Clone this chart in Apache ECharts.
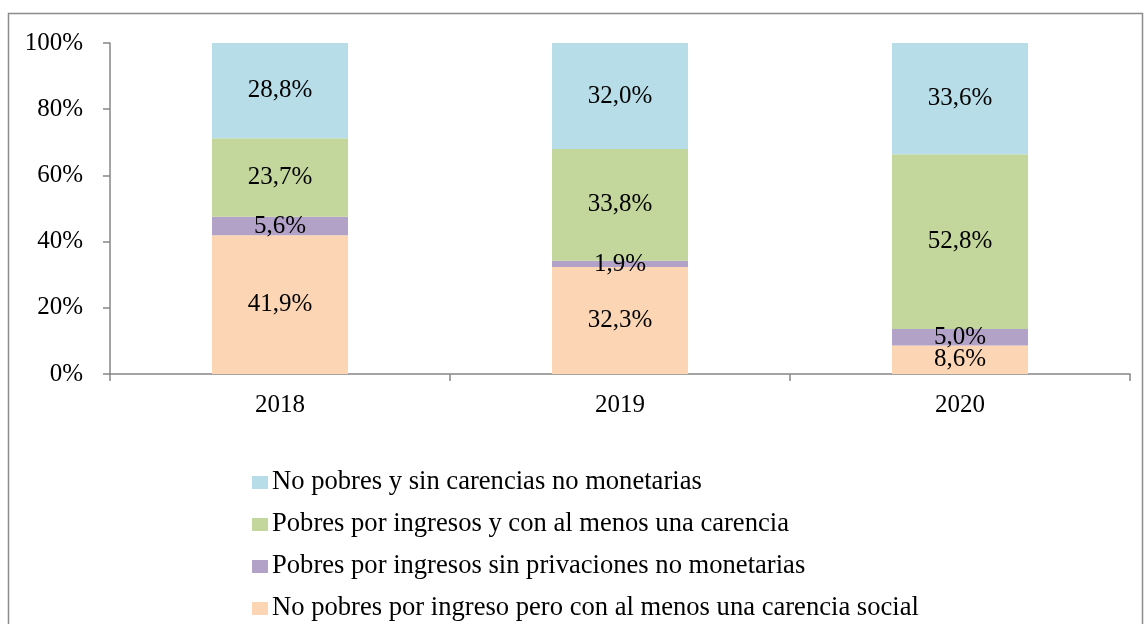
<!DOCTYPE html>
<html>
<head>
<meta charset="utf-8">
<script src="https://cdn.jsdelivr.net/npm/echarts@6/dist/echarts.min.js"></script>
<style>
  html, body { margin: 0; padding: 0; background: #fff; }
  #chart { width: 1145px; height: 624px; }
</style>
</head>
<body>
<div id="chart"></div>
<script>
// categorias y series (porcentajes)
const years = ['2018', '2019', '2020'];
const noPobresConCarencia = [41.9, 32.3, 8.6];
const pobresSinPrivaciones = [5.6, 1.9, 5.0];
const pobresConCarencia = [23.7, 33.8, 52.8];
const noPobresSinCarencias = [28.8, 32.0, 33.6];
const yTicks = [0, 20, 40, 60, 80, 100];

const seriesNames = [
  'No pobres por ingreso pero con al menos una carencia social',
  'Pobres por ingresos sin privaciones no monetarias',
  'Pobres por ingresos y con al menos una carencia',
  'No pobres y sin carencias no monetarias'
];
const colors = ['#fcd5b5', '#b3a2c7', '#c3d69b', '#b7dee8'];

const font = 'Liberation Serif, Times New Roman, serif';

function fmt(p) {
  return p.value.toFixed(1).replace('.', ',') + '%';
}

function makeSeries(name, data, color) {
  return {
    name: name,
    type: 'bar',
    stack: 'total',
    barWidth: '40%',
    data: data,
    itemStyle: { color: color },
    label: {
      show: true,
      position: 'inside',
      formatter: fmt,
      color: '#000',
      fontFamily: font,
      fontSize: 25
    }
  };
}

const chart = echarts.init(document.getElementById('chart'));
chart.setOption({
  animation: false,
  textStyle: { fontFamily: font },
  graphic: [{
    type: 'rect',
    shape: { x: 8.5, y: 13.5, width: 1134, height: 700 },
    style: { fill: 'none', stroke: '#8c8c8c', lineWidth: 1.5 },
    silent: true
  }],
  grid: { left: 110, right: 15, top: 43, bottom: 250 },
  legend: {
    orient: 'vertical',
    left: 252,
    top: 469,
    height: 160,
    padding: 0,
    itemWidth: 16,
    itemHeight: 13,
    itemGap: 15,
    data: seriesNames.slice().reverse(),
    textStyle: { fontFamily: font, fontSize: 26.6, color: '#000', lineHeight: 26, padding: [0, 0, 0, -1] },
    icon: 'rect'
  },
  xAxis: {
    type: 'category',
    data: years,
    axisLine: { lineStyle: { color: '#868686', width: 1.5 } },
    axisTick: { show: true, length: 7, lineStyle: { color: '#868686', width: 1.5 } },
    axisLabel: { color: '#000', fontFamily: font, fontSize: 25, margin: 19 }
  },
  yAxis: {
    type: 'value',
    min: yTicks[0],
    max: yTicks[yTicks.length - 1],
    interval: 20,
    splitLine: { show: false },
    axisLine: { show: true, lineStyle: { color: '#868686', width: 1.5 } },
    axisTick: { show: true, length: 7, lineStyle: { color: '#868686', width: 1.5 } },
    axisLabel: { color: '#000', fontFamily: font, fontSize: 25, margin: 27, formatter: '{value}%' }
  },
  series: [
    makeSeries(seriesNames[0], noPobresConCarencia, colors[0]),
    makeSeries(seriesNames[1], pobresSinPrivaciones, colors[1]),
    makeSeries(seriesNames[2], pobresConCarencia, colors[2]),
    makeSeries(seriesNames[3], noPobresSinCarencias, colors[3])
  ]
});
</script>
</body>
</html>
